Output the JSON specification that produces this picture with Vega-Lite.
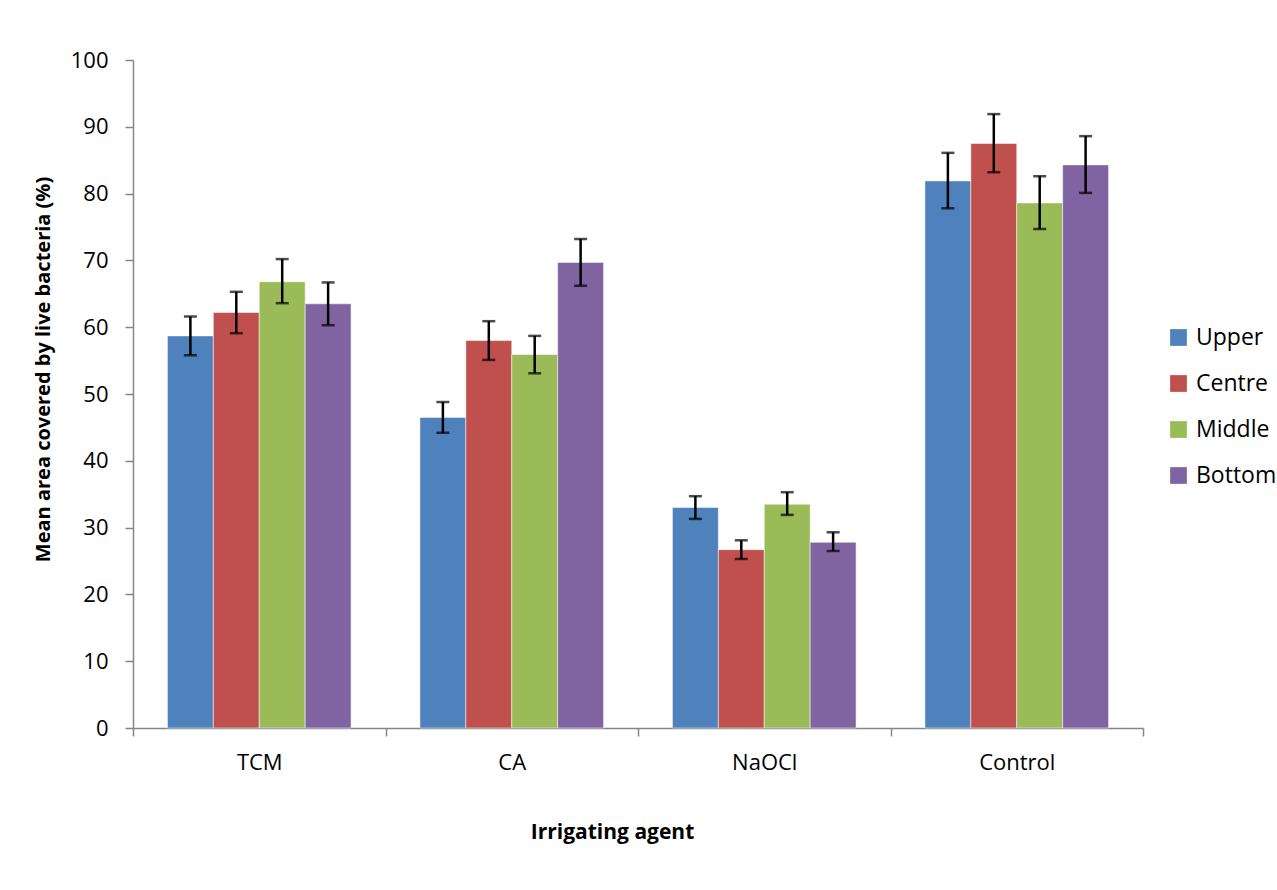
{
  "$schema": "https://vega.github.io/schema/vega-lite/v6.json",
  "autosize": "none",
  "width": 1010,
  "height": 668,
  "padding": {"left": 133, "top": 60, "right": 134, "bottom": 162},
  "background": "white",
  "config": {
    "view": {"stroke": null},
    "font": "Open Sans",
    "axis": {"labelFont": "Open Sans", "titleFont": "Open Sans", "labelColor": "black", "titleColor": "black", "domainColor": "#868686", "tickColor": "#868686", "domainWidth": 1.5, "tickWidth": 1.5}
  },
  "data": {
    "values": [
      {"agent": "TCM", "region": "Upper", "mean": 58.7, "lo": 55.8, "hi": 61.6},
      {"agent": "TCM", "region": "Centre", "mean": 62.2, "lo": 59.1, "hi": 65.3},
      {"agent": "TCM", "region": "Middle", "mean": 66.8, "lo": 63.6, "hi": 70.2},
      {"agent": "TCM", "region": "Bottom", "mean": 63.5, "lo": 60.3, "hi": 66.7},
      {"agent": "CA", "region": "Upper", "mean": 46.5, "lo": 44.2, "hi": 48.8},
      {"agent": "CA", "region": "Centre", "mean": 58.0, "lo": 55.1, "hi": 60.9},
      {"agent": "CA", "region": "Middle", "mean": 55.9, "lo": 53.1, "hi": 58.7},
      {"agent": "CA", "region": "Bottom", "mean": 69.7, "lo": 66.2, "hi": 73.2},
      {"agent": "NaOCl", "region": "Upper", "mean": 33.0, "lo": 31.3, "hi": 34.7},
      {"agent": "NaOCl", "region": "Centre", "mean": 26.7, "lo": 25.3, "hi": 28.1},
      {"agent": "NaOCl", "region": "Middle", "mean": 33.5, "lo": 31.9, "hi": 35.3},
      {"agent": "NaOCl", "region": "Bottom", "mean": 27.8, "lo": 26.5, "hi": 29.3},
      {"agent": "Control", "region": "Upper", "mean": 81.9, "lo": 77.8, "hi": 86.1},
      {"agent": "Control", "region": "Centre", "mean": 87.5, "lo": 83.2, "hi": 91.9},
      {"agent": "Control", "region": "Middle", "mean": 78.6, "lo": 74.7, "hi": 82.6},
      {"agent": "Control", "region": "Bottom", "mean": 84.3, "lo": 80.1, "hi": 88.6}
    ]
  },
  "encoding": {
    "x": {
      "field": "agent", "type": "nominal", "sort": ["TCM", "CA", "NaOCl", "Control"],
      "scale": {"paddingInner": 0, "paddingOuter": 0},
      "axis": {"title": "Irrigating agent", "labelAngle": 0, "labelFontSize": 22, "titleFontSize": 21, "titleFontWeight": "bold", "tickBand": "extent", "tickSize": 8, "labelPadding": 16, "titlePadding": 48, "titleX": 479}
    },
    "xOffset": {"field": "region", "type": "nominal", "sort": ["Upper", "Centre", "Middle", "Bottom"], "scale": {"paddingInner": 0, "paddingOuter": 0.75}}
  },
  "layer": [
    {
      "mark": {"type": "bar", "stroke": "white", "strokeOpacity": 0.5, "strokeWidth": 1},
      "encoding": {
        "y": {
          "field": "mean", "type": "quantitative",
          "scale": {"domain": [0, 100]},
          "axis": {"title": "Mean area covered by live bacteria (%)", "values": [0,10,20,30,40,50,60,70,80,90,100], "grid": false, "labelFontSize": 22, "titleFontSize": 20, "titleFontWeight": "bold", "tickSize": 8, "labelPadding": 17, "titlePadding": 17, "titleY": 309}
        },
        "color": {
          "field": "region", "type": "nominal",
          "sort": ["Upper", "Centre", "Middle", "Bottom"],
          "scale": {"domain": ["Upper", "Centre", "Middle", "Bottom"], "range": ["#4F81BD", "#C0504D", "#9BBB59", "#8064A2"]},
          "legend": {"title": null, "orient": "none", "legendX": 1034, "legendY": 266, "symbolType": "square", "symbolSize": 280, "symbolStrokeWidth": 0, "labelFontSize": 23, "labelFont": "Open Sans", "labelColor": "black", "rowPadding": 22, "labelOffset": 6}
        }
      }
    },
    {
      "mark": {"type": "rule", "color": "black", "strokeWidth": 2.5},
      "encoding": {"y": {"field": "lo", "type": "quantitative"}, "y2": {"field": "hi"}}
    },
    {
      "mark": {"type": "tick", "color": "black", "thickness": 2.5, "size": 13},
      "encoding": {"y": {"field": "lo", "type": "quantitative"}}
    },
    {
      "mark": {"type": "tick", "color": "black", "thickness": 2.5, "size": 13},
      "encoding": {"y": {"field": "hi", "type": "quantitative"}}
    }
  ]
}
